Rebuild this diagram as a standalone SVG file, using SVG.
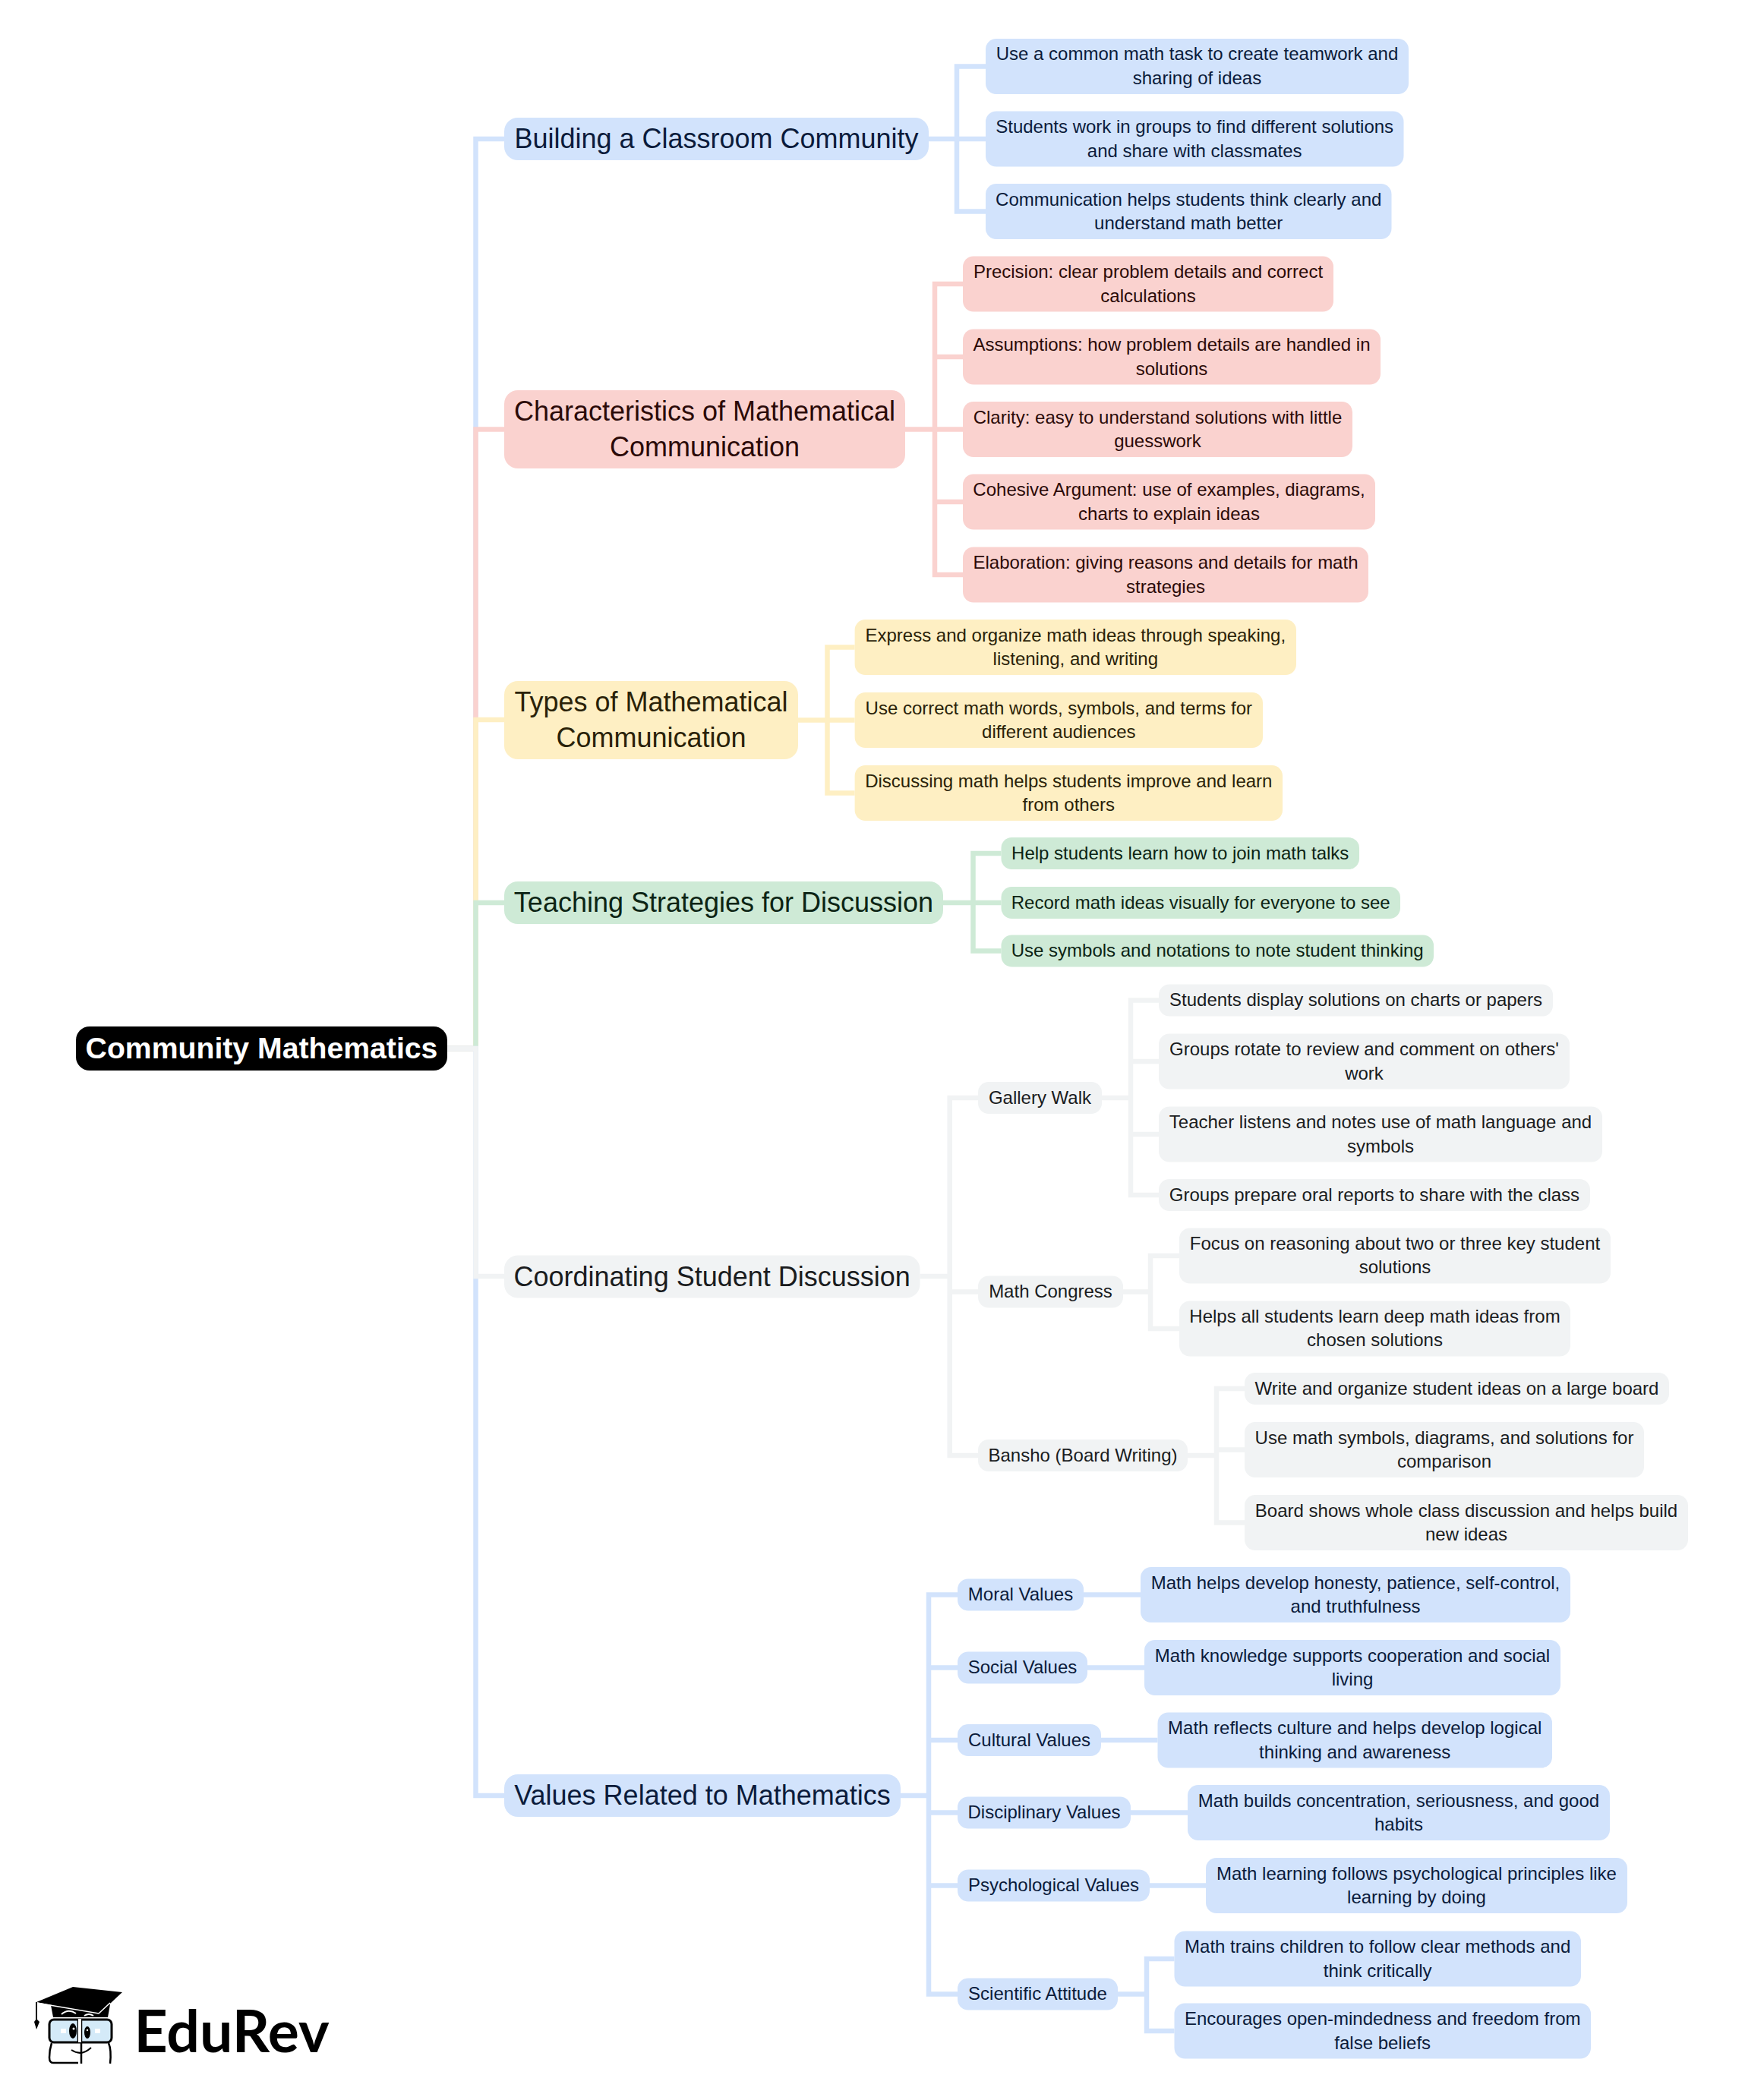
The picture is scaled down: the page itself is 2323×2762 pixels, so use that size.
<svg xmlns="http://www.w3.org/2000/svg" width="2323" height="2762" viewBox="0 0 2323 2762">
<style>
text{font-family:"Liberation Sans",Arial,sans-serif;font-size:24px;text-anchor:middle;transform:translateY(-0.5px)}
.l1{font-size:36px;transform:none}
.root{font-size:39.2px;font-weight:700;fill:#fff;transform:none}
.c{fill:none;stroke-width:6.5;stroke-linejoin:miter}
.cb{stroke:#D2E3FC}.cr{stroke:#FAD2CF}.cy{stroke:#FEEFC3}.cg{stroke:#CEEAD6}.cn{stroke:#F1F3F4}
.b rect{fill:#D2E3FC}.b text{fill:#0B1B3B}
.r rect{fill:#FAD2CF}.r text{fill:#2B0A08}
.y rect{fill:#FEEFC3}.y text{fill:#2A2208}
.g rect{fill:#CEEAD6}.g text{fill:#0C2414}
.n rect{fill:#F1F3F4}.n text{fill:#1A1C1E}
</style>
<rect width="2323" height="2762" fill="#fff"/>
<g id="connectors">
<path class="c cb" d="M588,1381H626.5V183H664"/>
<path class="c cr" d="M588,1381H626.5V565.5H664"/>
<path class="c cy" d="M588,1381H626.5V948H664"/>
<path class="c cg" d="M588,1381H626.5V1189H664"/>
<path class="c cb" d="M588,1381H626.5V2365H664"/>
<path class="c cn" d="M588,1381H626.5V1681H664"/>
<path class="c cb" d="M1223,183H1260V87.5H1298M1223,183H1298M1223,183H1260V278.5H1298"/>
<path class="c cr" d="M1192,565.5H1231V374H1268M1192,565.5H1231V470H1268M1192,565.5H1268M1192,565.5H1231V661H1268M1192,565.5H1231V757H1268"/>
<path class="c cy" d="M1051,948.5H1089.5V852.5H1125.6M1051,948.5H1125.6M1051,948.5H1089.5V1044.5H1125.6"/>
<path class="c cg" d="M1242,1189H1281.5V1124H1318.5M1242,1189H1318.5M1242,1189H1281.5V1252.5H1318.5"/>
<path class="c cn" d="M1211.5,1681H1250.7V1446H1288M1211.5,1681H1250.7V1701.5H1288M1211.5,1681H1250.7V1917H1288"/>
<path class="c cn" d="M1451,1446H1489V1317.5H1526M1451,1446H1489V1398H1526M1451,1446H1489V1494H1526M1451,1446H1489V1574H1526"/>
<path class="c cn" d="M1479,1701.5H1515V1654H1553M1479,1701.5H1515V1750H1553"/>
<path class="c cn" d="M1564,1917H1602V1829H1639M1564,1917H1602V1909.5H1639M1564,1917H1602V2005.5H1639"/>
<path class="c cb" d="M1186,2365H1223V2100.5H1261M1186,2365H1223V2196.5H1261M1186,2365H1223V2292H1261M1186,2365H1223V2387.5H1261M1186,2365H1223V2483.5H1261M1186,2365H1223V2626.5H1261"/>
<path class="c cb" d="M1427,2100.5H1502M1432,2196.5H1507M1450,2292H1524.5M1489,2387.5H1564M1514,2483.5H1588"/>
<path class="c cb" d="M1472,2626.5H1510V2580H1546.5M1472,2626.5H1510V2675H1546.5"/>
</g>
<g id="root"><rect x="100" y="1352" width="489" height="58" rx="18" fill="#000"/><text class="root" x="344.500" y="1394">Community Mathematics</text></g>

<g id="n1" class="b"><rect x="664" y="155" width="559" height="56" rx="18"/><text class="l1" x="943.500" y="195">Building a Classroom Community</text></g>
<g id="n1a" class="b"><rect x="1298" y="51" width="557" height="73" rx="14"/><text x="1576.500" y="79.500">Use a common math task to create teamwork and</text><text x="1576.500" y="111">sharing of ideas</text></g>
<g id="n1b" class="b"><rect x="1298" y="146.500" width="550.500" height="73" rx="14"/><text x="1573.200" y="175.500">Students work in groups to find different solutions</text><text x="1573.200" y="207.100">and share with classmates</text></g>
<g id="n1c" class="b"><rect x="1298" y="242" width="534.500" height="73" rx="14"/><text x="1565.200" y="271">Communication helps students think clearly and</text><text x="1565.200" y="302.600">understand math better</text></g>

<g id="n2" class="r"><rect x="664" y="514" width="528" height="103" rx="18"/><text class="l1" x="928" y="554">Characteristics of Mathematical</text><text class="l1" x="928" y="601">Communication</text></g>
<g id="n2a" class="r"><rect x="1268" y="337.500" width="488" height="73" rx="14"/><text x="1512" y="366.500">Precision: clear problem details and correct</text><text x="1512" y="398.100">calculations</text></g>
<g id="n2b" class="r"><rect x="1268" y="433.500" width="550" height="73" rx="14"/><text x="1543" y="462.500">Assumptions: how problem details are handled in</text><text x="1543" y="494.100">solutions</text></g>
<g id="n2c" class="r"><rect x="1268" y="529" width="513" height="73" rx="14"/><text x="1524.500" y="558">Clarity: easy to understand solutions with little</text><text x="1524.500" y="589.600">guesswork</text></g>
<g id="n2d" class="r"><rect x="1268" y="624.500" width="543" height="73" rx="14"/><text x="1539.500" y="653.500">Cohesive Argument: use of examples, diagrams,</text><text x="1539.500" y="685.100">charts to explain ideas</text></g>
<g id="n2e" class="r"><rect x="1268" y="720.500" width="534" height="73" rx="14"/><text x="1535" y="749.500">Elaboration: giving reasons and details for math</text><text x="1535" y="781.100">strategies</text></g>

<g id="n3" class="y"><rect x="664" y="897" width="387" height="103" rx="18"/><text class="l1" x="857.500" y="937">Types of Mathematical</text><text class="l1" x="857.500" y="984">Communication</text></g>
<g id="n3a" class="y"><rect x="1125.600" y="816" width="581.400" height="73" rx="14"/><text x="1416.300" y="845">Express and organize math ideas through speaking,</text><text x="1416.300" y="876.600">listening, and writing</text></g>
<g id="n3b" class="y"><rect x="1125.600" y="912" width="537.400" height="73" rx="14"/><text x="1394.300" y="941">Use correct math words, symbols, and terms for</text><text x="1394.300" y="972.600">different audiences</text></g>
<g id="n3c" class="y"><rect x="1125.600" y="1008" width="563.400" height="73" rx="14"/><text x="1407.300" y="1037">Discussing math helps students improve and learn</text><text x="1407.300" y="1068.600">from others</text></g>

<g id="n4" class="g"><rect x="664" y="1161" width="578" height="56" rx="18"/><text class="l1" x="953" y="1201">Teaching Strategies for Discussion</text></g>
<g id="n4a" class="g"><rect x="1318.500" y="1103" width="471.500" height="42" rx="14"/><text x="1554.200" y="1132.300">Help students learn how to join math talks</text></g>
<g id="n4b" class="g"><rect x="1318.500" y="1168" width="525.500" height="42" rx="14"/><text x="1581.200" y="1197.300">Record math ideas visually for everyone to see</text></g>
<g id="n4c" class="g"><rect x="1318.500" y="1231.500" width="569.500" height="42" rx="14"/><text x="1603.200" y="1260.800">Use symbols and notations to note student thinking</text></g>

<g id="n5" class="n"><rect x="664" y="1653.500" width="547.500" height="56" rx="18"/><text class="l1" x="937.700" y="1693.500">Coordinating Student Discussion</text></g>
<g id="n5a" class="n"><rect x="1288" y="1425" width="163" height="42" rx="14"/><text x="1369.500" y="1454.300">Gallery Walk</text></g>
<g id="n5a1" class="n"><rect x="1526" y="1296.500" width="519" height="42" rx="14"/><text x="1785.500" y="1325.800">Students display solutions on charts or papers</text></g>
<g id="n5a2" class="n"><rect x="1526" y="1361.500" width="541" height="73" rx="14"/><text x="1796.500" y="1390.500">Groups rotate to review and comment on others'</text><text x="1796.500" y="1422.100">work</text></g>
<g id="n5a3" class="n"><rect x="1526" y="1457.500" width="584" height="73" rx="14"/><text x="1818" y="1486.500">Teacher listens and notes use of math language and</text><text x="1818" y="1518.100">symbols</text></g>
<g id="n5a4" class="n"><rect x="1526" y="1553" width="568" height="42" rx="14"/><text x="1810" y="1582.300">Groups prepare oral reports to share with the class</text></g>
<g id="n5b" class="n"><rect x="1288" y="1680.500" width="191" height="42" rx="14"/><text x="1383.500" y="1709.800">Math Congress</text></g>
<g id="n5b1" class="n"><rect x="1553" y="1617.500" width="568" height="73" rx="14"/><text x="1837" y="1646">Focus on reasoning about two or three key student</text><text x="1837" y="1677">solutions</text></g>
<g id="n5b2" class="n"><rect x="1553" y="1713.500" width="515" height="73" rx="14"/><text x="1810.500" y="1742">Helps all students learn deep math ideas from</text><text x="1810.500" y="1773">chosen solutions</text></g>
<g id="n5c" class="n"><rect x="1288" y="1896" width="276" height="42" rx="14"/><text x="1426" y="1925.300">Bansho (Board Writing)</text></g>
<g id="n5c1" class="n"><rect x="1639" y="1808" width="559" height="42" rx="14"/><text x="1918.500" y="1837.300">Write and organize student ideas on a large board</text></g>
<g id="n5c2" class="n"><rect x="1639" y="1873" width="526" height="73" rx="14"/><text x="1902" y="1902">Use math symbols, diagrams, and solutions for</text><text x="1902" y="1933.600">comparison</text></g>
<g id="n5c3" class="n"><rect x="1639" y="1969" width="584" height="73" rx="14"/><text x="1931" y="1998">Board shows whole class discussion and helps build</text><text x="1931" y="2029.600">new ideas</text></g>

<g id="n6" class="b"><rect x="664" y="2337" width="522" height="56" rx="18"/><text class="l1" x="925" y="2377">Values Related to Mathematics</text></g>
<g id="n6a" class="b"><rect x="1261" y="2079.500" width="166" height="42" rx="14"/><text x="1344" y="2108.800">Moral Values</text></g>
<g id="n6a1" class="b"><rect x="1502" y="2064" width="566" height="73" rx="14"/><text x="1785" y="2093">Math helps develop honesty, patience, self-control,</text><text x="1785" y="2124.600">and truthfulness</text></g>
<g id="n6b" class="b"><rect x="1261" y="2175.500" width="171" height="42" rx="14"/><text x="1346.500" y="2204.800">Social Values</text></g>
<g id="n6b1" class="b"><rect x="1507" y="2160" width="548" height="73" rx="14"/><text x="1781" y="2189">Math knowledge supports cooperation and social</text><text x="1781" y="2220.600">living</text></g>
<g id="n6c" class="b"><rect x="1261" y="2271" width="189" height="42" rx="14"/><text x="1355.500" y="2300.300">Cultural Values</text></g>
<g id="n6c1" class="b"><rect x="1524.500" y="2255.500" width="519.500" height="73" rx="14"/><text x="1784.200" y="2284.500">Math reflects culture and helps develop logical</text><text x="1784.200" y="2316.100">thinking and awareness</text></g>
<g id="n6d" class="b"><rect x="1261" y="2366.500" width="228" height="42" rx="14"/><text x="1375" y="2395.800">Disciplinary Values</text></g>
<g id="n6d1" class="b"><rect x="1564" y="2351" width="556" height="73" rx="14"/><text x="1842" y="2380">Math builds concentration, seriousness, and good</text><text x="1842" y="2411.600">habits</text></g>
<g id="n6e" class="b"><rect x="1261" y="2462.500" width="253" height="42" rx="14"/><text x="1387.500" y="2491.800">Psychological Values</text></g>
<g id="n6e1" class="b"><rect x="1588" y="2447" width="555" height="73" rx="14"/><text x="1865.500" y="2476">Math learning follows psychological principles like</text><text x="1865.500" y="2507.600">learning by doing</text></g>
<g id="n6f" class="b"><rect x="1261" y="2605.500" width="211" height="42" rx="14"/><text x="1366.500" y="2634.800">Scientific Attitude</text></g>
<g id="n6f1" class="b"><rect x="1546.500" y="2543.500" width="535.500" height="73" rx="14"/><text x="1814.200" y="2572.500">Math trains children to follow clear methods and</text><text x="1814.200" y="2604.100">think critically</text></g>
<g id="n6f2" class="b"><rect x="1546.500" y="2638.500" width="548.500" height="73" rx="14"/><text x="1820.700" y="2667.500">Encourages open-mindedness and freedom from</text><text x="1820.700" y="2699.100">false beliefs</text></g>

<g id="logo">
<path d="M48,2637L96,2617L161,2624L130,2653Z" fill="#000"/>
<path d="M67,2641L145,2640L142,2657L70,2657Z" fill="#000"/>
<path d="M48,2638L130,2652L145,2638" fill="none" stroke="#fff" stroke-width="1.500"/>
<path d="M48,2637V2660" stroke="#000" stroke-width="2" fill="none"/>
<path d="M48,2659L52,2663L48,2673L45,2663Z" fill="#000"/>
<path d="M81,2653Q90,2645 100,2652M111,2655Q117,2651 123,2655" fill="none" stroke="#fff" stroke-width="2"/>
<rect x="65" y="2660" width="82" height="30" rx="6" fill="#D4EAF8" stroke="#000" stroke-width="3"/>
<path d="M103,2659V2690M107,2659V2718" fill="none" stroke="#000" stroke-width="2.500"/>
<path d="M103,2659H107V2690H103Z" fill="#fff"/>
<path d="M68,2691Q65,2700 65,2710Q65,2717 70,2717H103M143,2691Q147,2700 145,2718" fill="none" stroke="#000" stroke-width="2.500"/>
<ellipse cx="96" cy="2675" rx="5" ry="10" fill="#000"/>
<ellipse cx="115" cy="2677" rx="4" ry="8" fill="#000"/>
<circle cx="97" cy="2672" r="1.500" fill="#fff"/><circle cx="115" cy="2674" r="1.200" fill="#fff"/>
<rect x="80" y="2672" width="7" height="6" fill="#fff"/><rect x="125" y="2672" width="7" height="6" fill="#fff"/>
<path d="M94,2700Q107,2709 120,2697" fill="none" stroke="#000" stroke-width="2"/>
<text x="305" y="2703" style="font-family:Lato,'Liberation Sans',sans-serif;font-size:77px;font-weight:700;fill:#000;transform:none">EduRev</text>
</g>
</svg>
